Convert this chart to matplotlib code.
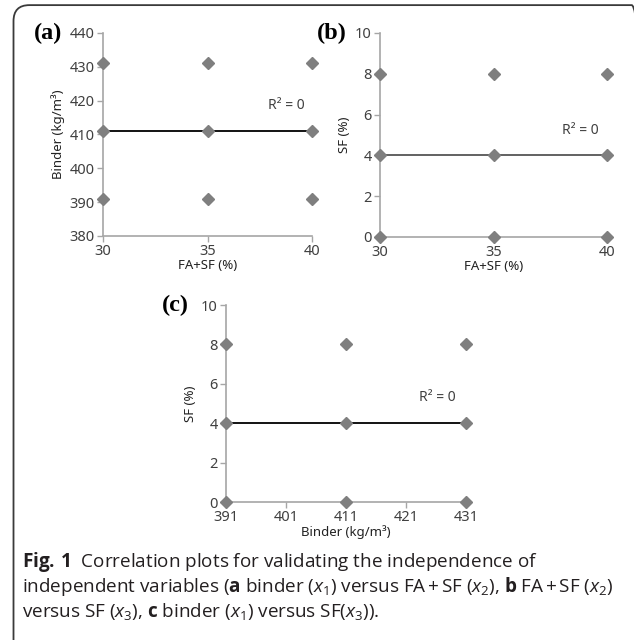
import numpy as np
import matplotlib
matplotlib.use("Agg")
import matplotlib.pyplot as plt
from matplotlib.patches import FancyBboxPatch

plt.rcParams['font.family'] = ['Noto Sans', 'DejaVu Sans']
plt.rcParams['mathtext.fontset'] = 'custom'
plt.rcParams['mathtext.rm'] = 'Open Sans'
plt.rcParams['mathtext.it'] = 'Open Sans:italic'
plt.rcParams['mathtext.bf'] = 'Open Sans:bold'

# mix design levels (3 x 3 factorial)
fa_sf = [30, 30, 30, 35, 35, 35, 40, 40, 40]
binder_a = [391, 411, 431, 391, 411, 431, 391, 411, 431]
sf_b = [0, 4, 8, 0, 4, 8, 0, 4, 8]
binder_c = [391, 391, 391, 411, 411, 411, 431, 431, 431]
sf_c = [0, 4, 8, 0, 4, 8, 0, 4, 8]

AXIS_GREY = '#a6a6a6'
MARKER_GREY = '#7f7f7f'
TEXT_GREY = '#404040'


def corr_panel(rect, x, y, xlim, ylim, xticks, yticks, xlabel, ylabel,
               tag, r2_pos, line_color='black'):
    ax = fig.add_axes(rect)
    ax.plot(x, y, 'D', color=MARKER_GREY, ms=6.3, clip_on=False, zorder=4)

    # linear trendline
    slope, icpt = np.polyfit(x, y, 1)
    xs = np.array(xlim)
    ax.plot(xs, slope * xs + icpt, color=line_color, lw=1.3, zorder=3,
            clip_on=False)
    ax.text(r2_pos[0], r2_pos[1], 'R² = 0', fontsize=10, color=TEXT_GREY,
            va='center')

    ax.set_xlim(xlim)
    ax.set_ylim(ylim)
    ax.set_xticks(xticks)
    ax.set_yticks(yticks)
    for s in ['top', 'right']:
        ax.spines[s].set_visible(False)
    for s in ['left', 'bottom']:
        ax.spines[s].set_color(AXIS_GREY)
        ax.spines[s].set_linewidth(1.2)
    ax.tick_params(direction='out', length=4, width=1, color=AXIS_GREY,
                   labelsize=10.5, labelcolor=TEXT_GREY, pad=2)
    ax.set_xlabel(xlabel, fontsize=9.5, fontweight='bold', color='#222222',
                  labelpad=0)
    ax.set_ylabel(ylabel, fontsize=9.5, fontweight='bold', color='#222222',
                  labelpad=3)
    fig.text(tag[0], tag[1], tag[2], fontsize=17.5, fontweight='bold',
             family='Liberation Serif', va='center', ha='left')
    return ax


fig = plt.figure(figsize=(6.34, 6.4), dpi=100)

border = FancyBboxPatch((0.0213, -0.05), 1.0, 1.042,
                        boxstyle='round,pad=0,rounding_size=0.025',
                        transform=fig.transFigure, fill=False,
                        edgecolor='#3a3a3a', lw=1.3)
fig.patches.append(border)

corr_panel([0.1625, 0.6313, 0.3297, 0.3172], fa_sf, binder_a,
           (30, 40), (380, 440), [30, 35, 40], range(380, 441, 10),
           'FA+SF (%)', 'Binder (kg/m³)',
           (0.054, 0.948, '(a)'), (37.9, 418.7))

corr_panel([0.5994, 0.6297, 0.358, 0.3188], fa_sf, sf_b,
           (30, 40), (0, 10), [30, 35, 40], range(0, 11, 2),
           'FA+SF (%)', 'SF (%)',
           (0.5, 0.948, '(b)'), (38.0, 5.24), line_color='#555555')

corr_panel([0.3565, 0.2156, 0.3785, 0.3078], binder_c, sf_c,
           (391, 431), (0, 10), range(391, 432, 10), range(0, 11, 2),
           'Binder (kg/m³)', 'SF (%)',
           (0.255, 0.523, '(c)'), (423.2, 5.33))

cap = dict(fontsize=13.6, family='Open Sans', color='#231f20', va='baseline',
           ha='left')
x0 = 22 / 634
fig.text(x0, 1 - 567 / 640,
         r'$\mathbf{Fig.\,1}$  Correlation plots for validating the independence of',
         **cap)
fig.text(x0, 1 - 592 / 640,
         r'independent variables ($\mathbf{a}$ binder ($x_1$) versus FA$\,$+$\,$SF ($x_2$), '
         r'$\mathbf{b}$ FA$\,$+$\,$SF ($x_2$)',
         **cap)
fig.text(x0, 1 - 617 / 640,
         r'versus SF ($x_3$), $\mathbf{c}$ binder ($x_1$) versus SF($x_3$)).',
         **cap)

fig.savefig('out.png', dpi=100)
